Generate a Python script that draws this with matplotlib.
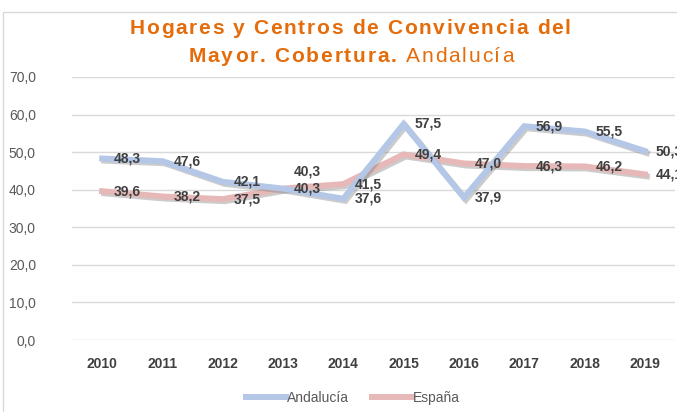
import matplotlib
matplotlib.use("Agg")
import matplotlib.pyplot as plt
import matplotlib.patheffects as pe
from matplotlib.patches import Rectangle
from matplotlib.lines import Line2D

years = ["2010", "2011", "2012", "2013", "2014", "2015", "2016", "2017", "2018", "2019"]
andalucia = [48.3, 47.6, 42.1, 40.3, 37.6, 57.5, 37.9, 56.9, 55.5, 50.3]
espana = [39.6, 38.2, 37.5, 40.3, 41.5, 49.4, 47.0, 46.3, 46.2, 44.1]
yticks = [0, 10, 20, 30, 40, 50, 60, 70]
title_1 = [("Hogares y Centros de Convivencia del", "bold")]
title_2 = [("Mayor. Cobertura.", "bold"), (" Andalucía", "normal")]

c_and = "#B4C7E7"
c_esp = "#E6B9B8"
orange = "#E46C0A"
grey_txt = "#595959"
lbl_txt = "#404040"

plt.rcParams["font.family"] = ["Liberation Sans", "DejaVu Sans"]

W, H = 677, 412
fig = plt.figure(figsize=(W / 100, H / 100), dpi=100)
fig.patches.append(Rectangle((3 / W, -0.1), 1.2, 1.1 - 12 / H, transform=fig.transFigure,
                             fill=False, edgecolor="#D9D9D9", lw=1))

ax = fig.add_axes([72 / W, 1 - 340 / H, 603 / W, 263 / H])
x = range(len(years))
shadow = [pe.SimpleLineShadow(offset=(1.5, -1.5), shadow_color="#808080", alpha=0.4), pe.Normal()]
ax.plot(x, andalucia, color=c_and, lw=4.3, solid_joinstyle="miter", path_effects=shadow, zorder=3)
ax.plot(x, espana, color=c_esp, lw=4.3, solid_joinstyle="miter", path_effects=shadow, zorder=2)

ax.set_xlim(-0.5, len(years) - 0.5)
ax.set_ylim(0, 70)
ax.set_yticks(yticks)
ax.set_yticklabels([f"{v:.1f}".replace(".", ",") for v in yticks], color=grey_txt, fontsize=10)
ax.set_xticks(list(x))
ax.set_xticklabels(years, fontweight="bold", color=lbl_txt, fontsize=10)
ax.tick_params(length=0, axis="y", pad=26)
ax.tick_params(length=0, axis="x", pad=12)
ax.grid(axis="y", color="#D9D9D9", lw=1)
ax.set_axisbelow(True)
for s in ax.spines.values():
    s.set_visible(False)

for i, v in enumerate(andalucia):
    ax.annotate(f"{v:.1f}".replace(".", ","), (i, v), xytext=(8, 0), textcoords="offset points",
                ha="left", va="center", fontsize=10, fontweight="bold", color=lbl_txt,
                annotation_clip=False, zorder=5)
for i, v in enumerate(espana):
    dy = 12 if i == 3 else 0
    ax.annotate(f"{v:.1f}".replace(".", ","), (i, v), xytext=(8, dy), textcoords="offset points",
                ha="left", va="center", fontsize=10, fontweight="bold", color=lbl_txt,
                annotation_clip=False, zorder=5)

# title, drawn letter by letter to get the wide tracking of the original
renderer = fig.canvas.get_renderer()


def char_width(c, weight, size):
    if c == " ":
        a = fig.text(0, 0, "x x", fontsize=size, fontweight=weight)
        b = fig.text(0, 0, "xx", fontsize=size, fontweight=weight)
        w = a.get_window_extent(renderer).width - b.get_window_extent(renderer).width
        a.remove()
        b.remove()
        return w
    t = fig.text(0, 0, c, fontsize=size, fontweight=weight)
    w = t.get_window_extent(renderer).width
    t.remove()
    return w


def tracked_line(segments, xc, y, size, track):
    chars = [(c, wt) for txt, wt in segments for c in txt]
    widths = [char_width(c, wt, size) for c, wt in chars]
    total = sum(widths) + track * (len(chars) - 1)
    xp = xc - total / 2
    for (c, wt), w in zip(chars, widths):
        if c != " ":
            fig.text(xp / W, 1 - y / H, c, ha="left", va="center", fontsize=size,
                     fontweight=wt, color=orange)
        xp += w + track


tracked_line(title_1, 350, 29, 15, 1.7)
tracked_line(title_2, 351, 57, 15, 1.8)

handles = [Line2D([], [], color=c_and, lw=4.3), Line2D([], [], color=c_esp, lw=4.3)]
fig.legend(handles, ["Andalucía", "España"], loc="center", bbox_to_anchor=(353 / W, 1 - 398 / H),
           ncol=2, frameon=False, fontsize=10, handlelength=2.9, handletextpad=0.1,
           columnspacing=1.6, labelcolor=grey_txt)

fig.savefig("out.png", dpi=100)
